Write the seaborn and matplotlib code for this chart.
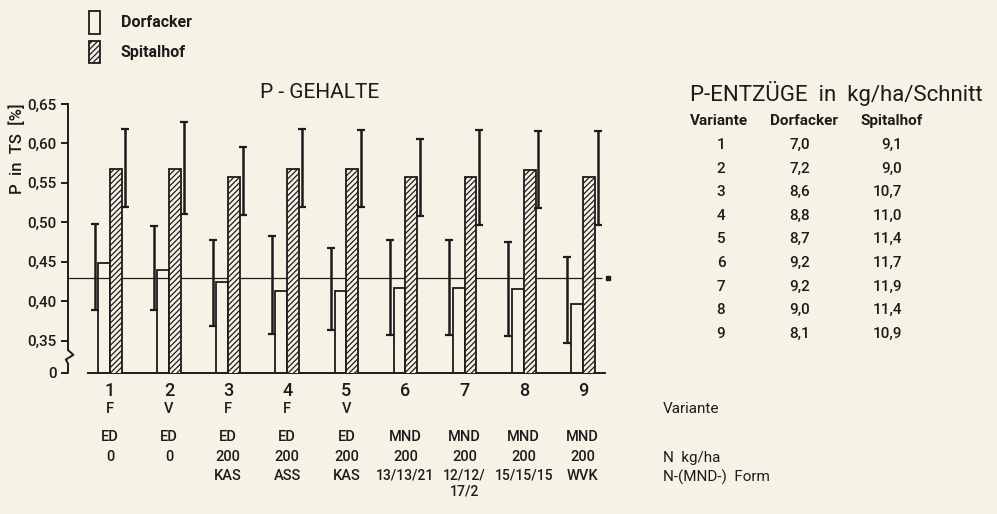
import numpy as np
import pandas as pd
import matplotlib
matplotlib.use("Agg")
import matplotlib.pyplot as plt
from matplotlib import transforms
from matplotlib.patches import Patch
import seaborn as sns

# P-Gehalte (P in TS, %) je Variante, Mittelwert und Streubereich
VARIANTS = ["1", "2", "3", "4", "5", "6", "7", "8", "9"]
DORF_MEAN = [0.449, 0.440, 0.424, 0.413, 0.413, 0.417, 0.417, 0.416, 0.396]
DORF_LOW = [0.389, 0.389, 0.368, 0.359, 0.363, 0.357, 0.357, 0.356, 0.347]
DORF_HIGH = [0.498, 0.495, 0.477, 0.483, 0.467, 0.477, 0.477, 0.475, 0.456]
SPITAL_MEAN = [0.568, 0.568, 0.557, 0.567, 0.567, 0.557, 0.557, 0.566, 0.557]
SPITAL_LOW = [0.520, 0.510, 0.509, 0.519, 0.519, 0.508, 0.497, 0.518, 0.496]
SPITAL_HIGH = [0.618, 0.627, 0.596, 0.618, 0.617, 0.606, 0.617, 0.616, 0.616]
REF_LINE = 0.43

# Beschriftung unter den Säulen
DUENGUNG = ["F", "V", "F", "F", "V", "", "", "", ""]
ART = ["ED", "ED", "ED", "ED", "ED", "MND", "MND", "MND", "MND"]
N_KG = ["0", "0", "200", "200", "200", "200", "200", "200", "200"]
FORM = ["", "", "KAS", "ASS", "KAS", "13/13/21", "12/12/\n17/2", "15/15/15", "WVK"]

# P-Entzüge in kg/ha/Schnitt
ENTZUG_DORF = [7.0, 7.2, 8.6, 8.8, 8.7, 9.2, 9.2, 9.0, 8.1]
ENTZUG_SPITAL = [9.1, 9.0, 10.7, 11.0, 11.4, 11.7, 11.9, 11.4, 10.9]

Y_TICKS = [0.35, 0.40, 0.45, 0.50, 0.55, 0.60, 0.65]
Y_ZERO = 0.309  # position of the broken-axis "0"

BG = "#f6f2e6"
INK = "#1c1c1c"
W, H = 997, 514

sns.set_style("ticks")
plt.rcParams["font.family"] = ["Roboto", "DejaVu Sans"]
plt.rcParams["hatch.linewidth"] = 0.9
plt.rcParams["hatch.color"] = INK

df = pd.DataFrame({
    "Variante": VARIANTS * 2,
    "P": DORF_MEAN + SPITAL_MEAN,
    "Standort": ["Dorfacker"] * 9 + ["Spitalhof"] * 9,
})

fig = plt.figure(figsize=(W / 100, H / 100), dpi=100, facecolor=BG)
ax = fig.add_axes([68 / W, 141 / H, (610 - 68) / W, (373 - 104) / H])
ax.set_facecolor(BG)

sns.barplot(
    data=df, x="Variante", y="P", hue="Standort",
    palette=["white", "white"], width=0.4, edgecolor=INK, linewidth=1.3,
    errorbar=None, legend=False, ax=ax, zorder=3,
)
n = len(VARIANTS)
for i, p in enumerate(ax.patches[:2 * n]):
    p.set_edgecolor(INK)
    if i < n:
        p.set_facecolor("none")
    else:
        p.set_facecolor(BG)
        p.set_hatch("//////")

x = np.arange(n)
dm, dl, dh = map(np.array, (DORF_MEAN, DORF_LOW, DORF_HIGH))
sm, sl, sh = map(np.array, (SPITAL_MEAN, SPITAL_LOW, SPITAL_HIGH))
ax.errorbar(x - 0.26, dm, yerr=[dm - dl, dh - dm], fmt="none", ecolor=INK,
            elinewidth=1.8, capsize=3.2, capthick=1.6, zorder=4)
ax.errorbar(x + 0.25, sm, yerr=[sm - sl, sh - sm], fmt="none", ecolor=INK,
            elinewidth=1.8, capsize=3.2, capthick=1.6, zorder=4)

# reference line with end mark
ax.hlines(REF_LINE, -0.71, 8.33, color=INK, lw=0.9, zorder=2)
ax.plot([8.43], [REF_LINE], marker="s", ms=2.5, color=INK, clip_on=False)

ax.set_xlim(-0.71, 8.46)
ax.set_ylim(Y_ZERO, 0.65)
sns.despine(ax=ax, top=True, right=True)
ax.spines["bottom"].set_bounds(-0.37, 8.37)
ax.spines["left"].set_bounds(0.338, 0.65)
for s in ("left", "bottom"):
    ax.spines[s].set_linewidth(1.4)
    ax.spines[s].set_color(INK)

# axis break
yt = ax.get_yaxis_transform()
ax.plot([0, 0.010, -0.004, 0, 0], [0.338, 0.332, 0.326, 0.321, Y_ZERO],
        color=INK, lw=1.4, transform=yt, clip_on=False)

ax.set_yticks([Y_ZERO] + Y_TICKS)
ax.set_yticklabels(["0"] + [f"{v:.2f}".replace(".", ",") for v in Y_TICKS])
ax.tick_params(axis="y", length=5, width=1.4, color=INK, labelsize=11,
               labelcolor=INK, pad=3)
for lab in ax.get_yticklabels():
    lab.set_fontweight("medium")
ax.set_xticks(x)
ax.set_xticklabels([])
ax.tick_params(axis="x", length=0)
ax.set_xlabel("")
ax.set_ylabel("")

fig.text(17 / W, 1 - 149 / H, "P  in  TS  [%]", rotation=90, ha="center",
         va="center", fontsize=12, weight="medium", color=INK)
fig.text(320 / W, 1 - 92 / H, "P - GEHALTE", ha="center", va="center",
         fontsize=15, color=INK)

# labels below the bars
bt = transforms.blended_transform_factory(ax.transData, fig.transFigure)
rows = [(VARIANTS, 391, 13), (DUENGUNG, 409, 10.5), (ART, 437, 10.5),
        (N_KG, 457, 10.5)]
for labels, ypx, fs in rows:
    for i, lab in enumerate(labels):
        ax.text(i, 1 - ypx / H, lab, transform=bt, ha="center", va="center",
                fontsize=fs, weight="medium", color=INK)
for i, lab in enumerate(FORM):
    fs = 10 if "/" in lab else 10.5
    ax.text(i, 1 - 469 / H, lab, transform=bt, ha="center", va="top",
            fontsize=fs, weight="medium", color=INK, linespacing=1.1)

for txt, ypx in [("Variante", 409), ("N  kg/ha", 458), ("N-(MND-)  Form", 477)]:
    fig.text(663 / W, 1 - ypx / H, txt, ha="left", va="center",
             fontsize=11, color=INK)

# legend
fig.legend(
    handles=[Patch(facecolor="none", edgecolor=INK, lw=1.3),
             Patch(facecolor=BG, edgecolor=INK, hatch="//////", lw=1.3)],
    labels=["Dorfacker", "Spitalhof"],
    loc="upper left", bbox_to_anchor=(89 / W, 1 - 11 / H), frameon=False,
    handlelength=0.7, handleheight=1.8, handletextpad=1.3, labelspacing=0.45,
    borderpad=0, borderaxespad=0, prop={"size": 11.5, "weight": "bold"},
    labelcolor=INK,
)

# table of P-Entzüge
fig.text(690 / W, 1 - 93 / H, "P-ENTZÜGE  in  kg/ha/Schnitt", ha="left",
         va="center", fontsize=16, color=INK)
for txt, xpx in [("Variante", 690), ("Dorfacker", 770), ("Spitalhof", 860)]:
    fig.text(xpx / W, 1 - 121 / H, txt, ha="left", va="center", fontsize=11,
             weight="bold", color=INK)
for i, (v, d, s) in enumerate(zip(VARIANTS, ENTZUG_DORF, ENTZUG_SPITAL)):
    ypx = 145 + i * 23.6
    fig.text(721 / W, 1 - ypx / H, v, ha="center", va="center",
             fontsize=11, weight="medium", color=INK)
    fig.text(800 / W, 1 - ypx / H, f"{d:.1f}".replace(".", ","), ha="center",
             va="center", fontsize=11, weight="medium", color=INK)
    fig.text(902 / W, 1 - ypx / H, f"{s:.1f}".replace(".", ","), ha="right",
             va="center", fontsize=11, weight="medium", color=INK)

fig.savefig("out.png", dpi=100, facecolor=BG)
